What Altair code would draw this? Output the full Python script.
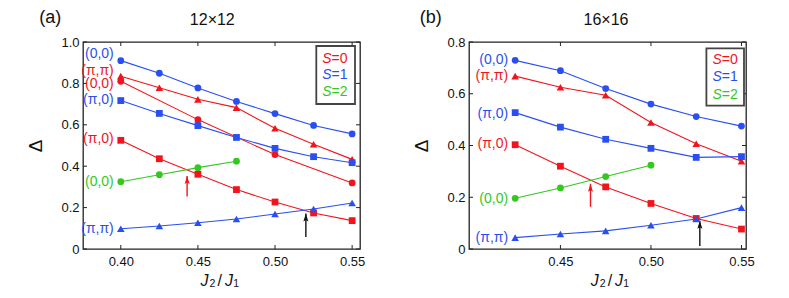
import altair as alt
import pandas as pd

RED = "#f2141c"
BLUE = "#2a4ff0"
GREEN = "#33c81e"
BLACK = "#111111"
FONT = "Liberation Sans"

# ---------------- panel (a) 12x12 ----------------
x_a = [0.400, 0.425, 0.450, 0.475, 0.500, 0.525, 0.550]
a_s1_00 = [0.910, 0.849, 0.778, 0.713, 0.654, 0.597, 0.556]
a_s0_pipi = [0.835, 0.779, 0.723, 0.683, 0.583, 0.506, 0.433]
a_s0_00_x = [0.400, 0.450, 0.500, 0.550]
a_s0_00 = [0.810, 0.625, 0.456, 0.319]
a_s1_pi0 = [0.717, 0.655, 0.596, 0.539, 0.486, 0.446, 0.417]
a_s0_pi0 = [0.525, 0.436, 0.361, 0.287, 0.227, 0.174, 0.137]
a_s2_00_x = [0.400, 0.425, 0.450, 0.475]
a_s2_00 = [0.325, 0.359, 0.393, 0.424]
a_s1_pipi = [0.098, 0.111, 0.127, 0.145, 0.169, 0.193, 0.222]

a_label_text = ["(0,0)", "(π,π)", "(0,0)", "(π,0)", "(π,0)", "(0,0)", "(π,π)"]
a_label_y = [0.942, 0.862, 0.797, 0.720, 0.531, 0.325, 0.097]
a_label_color = [BLUE, RED, RED, BLUE, RED, GREEN, BLUE]

a_arrow_x = [0.443, 0.520]
a_arrow_from = [0.254, 0.058]
a_arrow_to = [0.353, 0.171]
a_arrow_color = [RED, BLACK]

# ---------------- panel (b) 16x16 ----------------
x_b = [0.425, 0.450, 0.475, 0.500, 0.525, 0.550]
b_s1_00 = [0.729, 0.689, 0.620, 0.560, 0.512, 0.475]
b_s0_pipi = [0.668, 0.625, 0.594, 0.489, 0.407, 0.339]
b_s1_pi0 = [0.527, 0.471, 0.424, 0.389, 0.354, 0.357]
b_s0_pi0 = [0.403, 0.320, 0.240, 0.176, 0.118, 0.077]
b_s2_00_x = [0.425, 0.450, 0.475, 0.500]
b_s2_00 = [0.196, 0.236, 0.280, 0.324]
b_s1_pipi = [0.044, 0.058, 0.070, 0.092, 0.116, 0.160]

b_label_text = ["(0,0)", "(π,π)", "(π,0)", "(π,0)", "(0,0)", "(π,π)"]
b_label_y = [0.730, 0.668, 0.523, 0.407, 0.193, 0.042]
b_label_color = [BLUE, RED, BLUE, RED, GREEN, BLUE]

b_arrow_x = [0.4666, 0.527]
b_arrow_from = [0.163, 0.012]
b_arrow_to = [0.252, 0.109]
b_arrow_color = [RED, BLACK]

# ticks / legend
x_ticks_a = [0.40, 0.45, 0.50, 0.55]
x_ticks_b = [0.45, 0.50, 0.55]
y_ticks_a = [0.0, 0.2, 0.4, 0.6, 0.8, 1.0]
y_ticks_b = [0.0, 0.2, 0.4, 0.6, 0.8]
legend_values = ["=0", "=1", "=2"]
legend_colors = [RED, BLUE, GREEN]

ARROW = "M0,0L0.5,1.6L0,1.3L-0.5,1.6Z"
dummy = pd.DataFrame({"d": [0]})


def ptext(text, x, y, size, color="#111111", style="normal", align="center",
          baseline="middle"):
    return alt.Chart(dummy).mark_text(
        text=text, font=FONT, fontSize=size, color=color, fontStyle=style,
        align=align, baseline=baseline).encode(x=alt.value(x), y=alt.value(y))


def panel(series, xdom, ydom, xticks, yticks, W, H, labels, arrows, box, tx, ty,
          plabel, pxy, title, txy, xt0):
    xs = alt.Scale(domain=xdom, nice=False, zero=False)
    ys = alt.Scale(domain=ydom, nice=False, zero=False)
    xax = alt.Axis(values=xticks, format=".2f", title=None, labelFlush=False,
                   labelOverlap=False)
    yax = alt.Axis(values=yticks, title="Δ", labelFlush=False, labelOverlap=False,
                   labelExpr="datum.value == 0 ? '0' : format(datum.value, '.1f')")
    rows = []
    for name, xv, yv, col, shp in series:
        for a, b in zip(xv, yv):
            rows.append(dict(series=name, x=a, y=b, color=col, shape=shp))
    df = pd.DataFrame(rows)
    X = alt.X("x:Q", scale=xs, axis=xax)
    Y = alt.Y("y:Q", scale=ys, axis=yax)
    base = alt.Chart(df)
    lines = base.mark_line(strokeWidth=1.1).encode(
        x=X, y=Y, color=alt.Color("color:N", scale=None), detail="series:N")
    pts = base.mark_point(filled=True, opacity=1).encode(
        x=X, y=Y, color=alt.Color("color:N", scale=None),
        shape=alt.Shape("shape:N", scale=None),
        size=alt.condition("datum.shape == 'triangle-up'", alt.value(58), alt.value(46)))

    ltext, ly, lcol, lx = labels
    ldf = pd.DataFrame({"t": ltext, "y": ly, "color": lcol, "x": [lx] * len(ltext)})
    lab = alt.Chart(ldf).mark_text(font=FONT, fontSize=14, align="right",
                                   baseline="middle", dx=-7).encode(
        x=X, y=Y, text="t:N", color=alt.Color("color:N", scale=None))

    ax_, af, at, ac = arrows
    adf = pd.DataFrame({"x": ax_, "y": af, "y2": at, "color": ac})
    arule = alt.Chart(adf).mark_rule(strokeWidth=1.4).encode(
        x=X, y=Y, y2="y2:Q", color=alt.Color("color:N", scale=None))
    ahead = alt.Chart(adf).mark_point(filled=True, opacity=1, shape=ARROW, size=100).encode(
        x=X, y=alt.Y("y2:Q", scale=ys, axis=yax), color=alt.Color("color:N", scale=None))

    xt = pd.DataFrame({"x": xticks})
    yt = pd.DataFrame({"y": yticks})
    tk = dict(color="#222222", strokeWidth=1)
    tb = alt.Chart(xt).mark_rule(**tk).encode(x=X, y=alt.value(H), y2=alt.value(H - 4))
    tt = alt.Chart(xt).mark_rule(**tk).encode(x=X, y=alt.value(0), y2=alt.value(4))
    tl = alt.Chart(yt).mark_rule(**tk).encode(y=Y, x=alt.value(0), x2=alt.value(4))
    tr = alt.Chart(yt).mark_rule(**tk).encode(y=Y, x=alt.value(W - 4), x2=alt.value(W))

    bx0, bx1, by0, by1 = box
    lbox = alt.Chart(dummy).mark_rect(fill="white", stroke="#444444", strokeWidth=1.8).encode(
        x=alt.value(bx0), x2=alt.value(bx1), y=alt.value(by0), y2=alt.value(by1))
    leg = [lbox]
    for v, c, yy in zip(legend_values, legend_colors, ty):
        leg.append(ptext("S", tx, yy, 14, c, "italic", "left"))
        leg.append(ptext(v, tx + 9.3, yy, 14, c, "normal", "left"))

    deco = [
        ptext(plabel, pxy[0], pxy[1], 18),
        ptext(title, txy[0], txy[1], 16),
        ptext("J", xt0, H + 36.5, 16, style="italic", align="left", baseline="alphabetic"),
        ptext("2", xt0 + 9, H + 37.5, 10.5, align="left", baseline="alphabetic"),
        ptext("/", xt0 + 19.2, H + 36.5, 16, baseline="alphabetic"),
        ptext("J", xt0 + 24.4, H + 36.5, 16, style="italic", align="left", baseline="alphabetic"),
        ptext("1", xt0 + 32.6, H + 37.5, 10.5, align="left", baseline="alphabetic"),
    ]
    return alt.layer(lines, tb, tt, tl, tr, lab, arule, ahead, pts, *leg, *deco).properties(
        width=W, height=H)


series_a = [
    ("a_s1_00", x_a, a_s1_00, BLUE, "circle"),
    ("a_s0_pipi", x_a, a_s0_pipi, RED, "triangle-up"),
    ("a_s0_00", a_s0_00_x, a_s0_00, RED, "circle"),
    ("a_s1_pi0", x_a, a_s1_pi0, BLUE, "square"),
    ("a_s0_pi0", x_a, a_s0_pi0, RED, "square"),
    ("a_s2_00", a_s2_00_x, a_s2_00, GREEN, "circle"),
    ("a_s1_pipi", x_a, a_s1_pipi, BLUE, "triangle-up"),
]
series_b = [
    ("b_s1_00", x_b, b_s1_00, BLUE, "circle"),
    ("b_s0_pipi", x_b, b_s0_pipi, RED, "triangle-up"),
    ("b_s1_pi0", x_b, b_s1_pi0, BLUE, "square"),
    ("b_s0_pi0", x_b, b_s0_pi0, RED, "square"),
    ("b_s2_00", b_s2_00_x, b_s2_00, GREEN, "circle"),
    ("b_s1_pipi", x_b, b_s1_pipi, BLUE, "triangle-up"),
]

left = panel(series_a, [0.3755, 0.5551], [0, 1.0], x_ticks_a, y_ticks_a, 277, 207,
             (a_label_text, a_label_y, a_label_color, 0.400),
             (a_arrow_x, a_arrow_from, a_arrow_to, a_arrow_color),
             (233.3, 272.0, 4.0, 62.0), 239.3, [17.0, 33.3, 50.3],
             "(a)", (-32.7, -24.0), "12×12", (129.3, -22), 117.6)
right = panel(series_b, [0.3995, 0.5525], [0, 0.8], x_ticks_b, y_ticks_b, 277, 207,
              (b_label_text, b_label_y, b_label_color, 0.425),
              (b_arrow_x, b_arrow_from, b_arrow_to, b_arrow_color),
              (237.4, 275.0, 6.3, 63.7), 243.4, [17.7, 35.3, 53.0],
              "(b)", (-38.3, -24.0), "16×16", (137.0, -22), 121.7)

chart = alt.hconcat(left, right, spacing=46).properties(
    padding={"left": 18, "top": 0, "right": 5, "bottom": 5}
).configure_view(stroke="#222222", strokeWidth=1.3).configure_axis(
    domain=False, ticks=False, tickSize=0, grid=False,
    labelFont=FONT, labelFontSize=13, labelColor="#111111",
    titleFont=FONT, titleColor="#111111", titleFontWeight="normal",
).configure_axisX(labelPadding=6).configure_axisY(
    labelPadding=4, titleFontSize=19, titlePadding=15)

chart.save("out.html", embed_options={"renderer": "svg", "actions": False})
